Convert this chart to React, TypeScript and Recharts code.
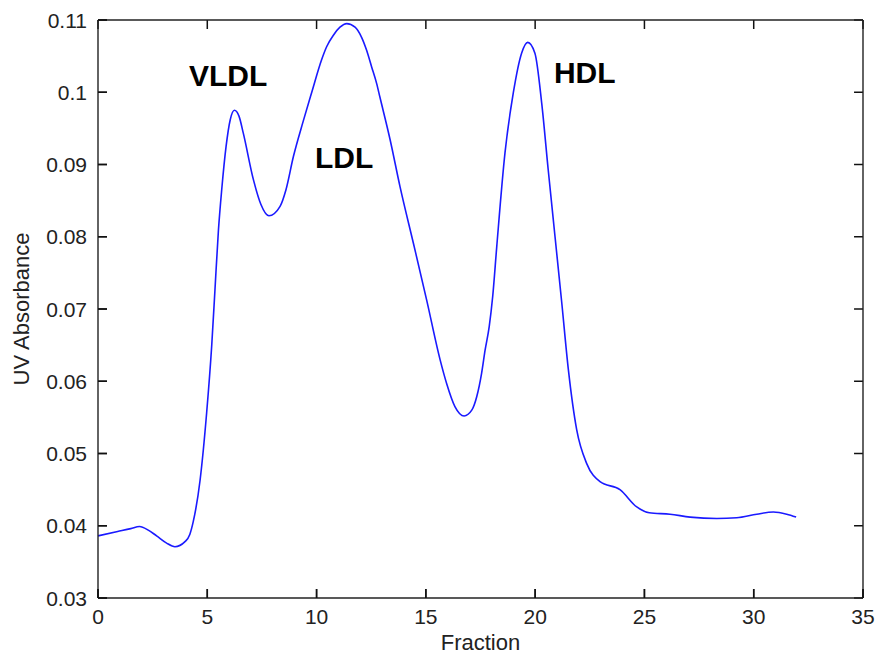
import { ComposedChart, Line, Scatter, XAxis, YAxis, ReferenceLine } from 'recharts';

const fractions = [
  0, 0.9, 1.5, 1.9, 2.3, 2.68, 3.14, 3.52, 3.98, 4.2, 4.36, 4.67, 4.97, 5.2, 5.35, 5.51, 5.66, 5.86,
  6.05, 6.24, 6.45, 6.65, 7.11, 7.45, 7.82, 8.33, 8.6, 8.94, 9.39, 9.78, 10.23, 10.46, 10.77, 11.07,
  11.38, 11.76, 12.06, 12.29, 12.52, 12.75, 12.9, 13.36, 13.82, 14.43, 15.04, 15.65, 15.95, 16.33,
  16.75, 17.1, 17.33, 17.55, 17.71, 17.9, 18.06, 18.24, 18.62, 19.0, 19.38, 19.66, 19.99, 20.3,
  20.6, 20.91, 21.22, 21.52, 21.9, 22.36, 22.97, 23.88, 24.65, 25.22, 26.17, 27.09, 28.31, 29.22,
  30.14, 30.9, 31.51, 31.94,
];

const absorbance = [
  0.0386, 0.0392, 0.0396, 0.0399, 0.0394, 0.0386, 0.0376, 0.0371, 0.0378, 0.0388, 0.0406, 0.0463,
  0.0556, 0.0648, 0.0726, 0.0809, 0.0865, 0.0925, 0.0962, 0.0975, 0.0967, 0.0943, 0.0879, 0.0845,
  0.0829, 0.0842, 0.0865, 0.0911, 0.096, 0.1, 0.1045, 0.1063, 0.1079, 0.109, 0.1095, 0.109, 0.1076,
  0.1058, 0.1035, 0.1012, 0.0993, 0.0935, 0.0869, 0.0791, 0.0712, 0.063, 0.0597, 0.0565, 0.0552,
  0.056, 0.0579, 0.0611, 0.0643, 0.0676, 0.0718, 0.0785, 0.0916, 0.0999, 0.1054, 0.1069, 0.1054,
  0.0985, 0.0892, 0.08, 0.0708, 0.0616, 0.0533, 0.0486, 0.0461, 0.045, 0.0426, 0.0418, 0.0416,
  0.0412, 0.041, 0.0411, 0.0416, 0.0419, 0.0416, 0.0412,
];

const xTicks = [0, 5, 10, 15, 20, 25, 30, 35];
const yTicks = [0.03, 0.04, 0.05, 0.06, 0.07, 0.08, 0.09, 0.1, 0.11];

// peak names, placed at the left end of each label's baseline (data units)
const peakLabels = ['VLDL', 'LDL', 'HDL'];
const peakLabelX = [4.16, 9.93, 20.86];
const peakLabelY = [0.1009, 0.0895, 0.1013];

const data = fractions.map((f, i) => ({ fraction: f, uv: absorbance[i] }));
const labelData = peakLabels.map((name, i) => ({ name, fraction: peakLabelX[i], uv: peakLabelY[i] }));

const X_MIN = 0;
const X_MAX = 35;
const Y_MIN = 0.03;
const Y_MAX = 0.11;
// inward tick length (~9px) in data units
const TICK_DX = 0.41;
const TICK_DY = 0.00125;

const FONT = '"Liberation Sans", Arial, sans-serif';
const AXIS = '#222';
const TICK_LEN = 9;

// matlab style: ticks point into the plot box
const BottomTick = ({ x, y, payload }: any) => (
  <g>
    <line x1={x} y1={y} x2={x} y2={y - TICK_LEN} stroke="#111" strokeWidth={1.5} />
    <text x={x} y={y + 11} dy="0.71em" textAnchor="middle" fill={AXIS} fontSize={21} fontFamily={FONT}>
      {payload.value}
    </text>
  </g>
);

const LeftTick = ({ x, y, payload }: any) => (
  <g>
    <line x1={x} y1={y} x2={x + TICK_LEN} y2={y} stroke="#111" strokeWidth={1.5} />
    <text x={x - 11} y={y} dy="0.36em" textAnchor="end" fill={AXIS} fontSize={21} fontFamily={FONT}>
      {payload.value}
    </text>
  </g>
);

const PeakName = ({ cx, cy, payload }: any) => (
  <text x={cx} y={cy} fill="#000" fontSize={30} fontWeight="bold" fontFamily={FONT}>
    {payload.name}
  </text>
);

export default function App() {
  return (
    <div style={{ position: 'absolute', left: 0, top: 0, width: 877, height: 656, background: '#fff' }}>
      <ComposedChart width={877} height={656} data={data} margin={{ top: 19, right: 13, bottom: 0, left: 0 }}>
        <XAxis
          dataKey="fraction"
          type="number"
          domain={[X_MIN, X_MAX]}
          ticks={xTicks}
          height={58}
          stroke={AXIS}
          strokeWidth={1.4}
          tickSize={0}
          tickMargin={0}
          tickLine={false}
          tick={<BottomTick />}
          label={{ value: 'Fraction', position: 'insideBottom', offset: 6, fill: AXIS, fontSize: 22, fontFamily: FONT }}
        />
        <XAxis
          xAxisId="top"
          orientation="top"
          type="number"
          domain={[X_MIN, X_MAX]}
          ticks={xTicks}
          height={1}
          stroke={AXIS}
          strokeWidth={1.4}
          tickLine={false}
          tick={false}
        />
        <YAxis
          type="number"
          domain={[Y_MIN, Y_MAX]}
          ticks={yTicks}
          width={98}
          stroke={AXIS}
          strokeWidth={1.4}
          tickSize={0}
          tickMargin={0}
          tickLine={false}
          tick={<LeftTick />}
          label={{
            content: ({ viewBox }: any) => {
              const cx = viewBox.x + 29;
              const cy = viewBox.y + viewBox.height / 2;
              return (
                <text x={cx} y={cy} transform={`rotate(-90, ${cx}, ${cy})`} textAnchor="middle"
                  fill={AXIS} fontSize={22} fontFamily={FONT}>
                  UV Absorbance
                </text>
              );
            },
          }}
        />
        <YAxis
          yAxisId="right"
          orientation="right"
          type="number"
          domain={[Y_MIN, Y_MAX]}
          ticks={yTicks}
          width={1}
          stroke={AXIS}
          strokeWidth={1.4}
          tickLine={false}
          tick={false}
        />
        {xTicks.map((t) => (
          <ReferenceLine key={`xb${t}`} segment={[{ x: t, y: Y_MIN }, { x: t, y: Y_MIN + TICK_DY }]} stroke="#111" strokeWidth={1.5} />
        ))}
        {xTicks.map((t) => (
          <ReferenceLine key={`xt${t}`} segment={[{ x: t, y: Y_MAX }, { x: t, y: Y_MAX - TICK_DY }]} stroke="#111" strokeWidth={1.5} />
        ))}
        {yTicks.map((t) => (
          <ReferenceLine key={`yl${t}`} segment={[{ x: X_MIN, y: t }, { x: X_MIN + TICK_DX, y: t }]} stroke="#111" strokeWidth={1.5} />
        ))}
        {yTicks.map((t) => (
          <ReferenceLine key={`yr${t}`} segment={[{ x: X_MAX, y: t }, { x: X_MAX - TICK_DX, y: t }]} stroke="#111" strokeWidth={1.5} />
        ))}
        <Line
          type="monotone"
          dataKey="uv"
          stroke="#1a1aff"
          strokeWidth={1.6}
          dot={false}
          isAnimationActive={false}
        />
        <Scatter data={labelData} dataKey="uv" shape={<PeakName />} isAnimationActive={false} />
      </ComposedChart>
    </div>
  );
}
